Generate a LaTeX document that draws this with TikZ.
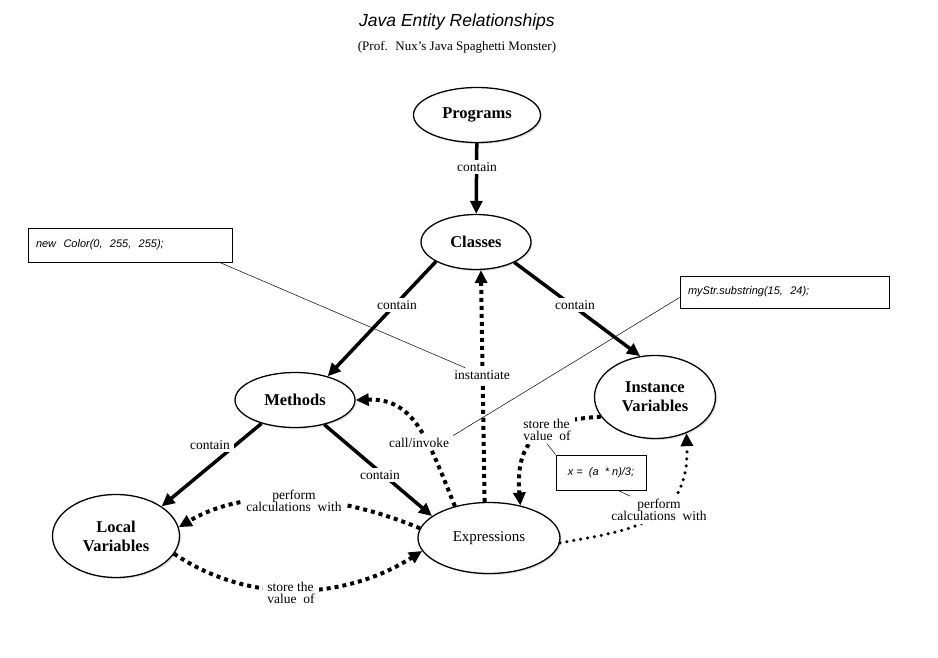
\documentclass[tikz,border=0pt]{standalone}
\usepackage{fontspec}
\setmainfont{Liberation Serif}
\setsansfont{Liberation Sans}
\usetikzlibrary{ arrows.meta,      % For the triangle tips
                 shapes.geometric, % For ellipse
                 shadows,          % For the soft shadows
               }

\tikzset{
  entity/.style={ellipse, draw, line width=1.3pt, fill=white, inner sep=0pt,
                 align=center, font=\fontsize{16.5}{19}\selectfont\bfseries,
                 drop shadow={opacity=0.25, shadow xshift=1.5pt, shadow yshift=-1.5pt}},
  codebox/.style={draw, line width=0.9pt, fill=white, inner xsep=8pt,
                  font=\fontsize{11}{13}\selectfont\sffamily\itshape},
  contains/.style={line width=3.5pt, -{Triangle[length=13pt, width=12pt]}},
  uses/.style={line width=4pt, dash pattern=on 4pt off 4pt,
               -{Triangle[length=13pt, width=12pt]}},
  computes/.style={line width=3.5pt, dash pattern=on 0pt off 7pt, line cap=round,
                   -{Triangle[length=13pt, width=12pt]}},
  lbl/.style={fill=white, inner xsep=4pt, inner ysep=2.5pt, align=center,
              font=\fontsize{13.5}{12.5}\selectfont},
  callout/.style={line width=0.5pt},
}

\begin{document}
\begin{tikzpicture}[x=1pt, y=-1pt]
  \useasboundingbox (0,0) rectangle (938,657);

  \node (title) at (457,22) {\fontsize{17.5}{20}\selectfont\sffamily\itshape Java Entity Relationships};
  \node (subtitle) at (457,47) {\fontsize{13}{15}\selectfont (Prof.~ Nux’s Java Spaghetti Monster)};

  % the entities
  \node[entity, minimum width=127pt, minimum height=55pt] (programs) at (477,115) {Programs};
  \node[entity, minimum width=110pt, minimum height=55pt] (classes) at (476,242) {Classes};
  \node[entity, minimum width=120pt, minimum height=55pt] (methods) at (295,400) {Methods};
  \node[entity, minimum width=121pt, minimum height=83pt] (inst_vars) at (655,397) {Instance\\Variables};
  \node[entity, minimum width=127pt, minimum height=83pt] (local_vars) at (116,536) {Local\\Variables};
  \node[entity, minimum width=142pt, minimum height=71pt,
        font=\fontsize{15}{18}\selectfont] (expressions) at (489,538) {Expressions};

  % code samples
  \node[codebox, minimum height=34pt, text width=188pt, align=left] (color_box) at (130,245)
    {new~ Color(0,~ 255,~ 255);};
  \node[codebox, minimum height=32pt, text width=193pt, align=left] (substr_box) at (784.5,292)
    {myStr.substring(15,~ 24);};
  \node[codebox, minimum width=90pt, minimum height=35pt] (calc_box) at (601,472.5)
    {x =~ (a~ * n)/3;};

  % solid arrows
  \draw[contains] (programs) -- (classes);
  \draw[contains] (classes.206) -- (methods.36);
  \draw[contains] (classes.332) -- (inst_vars.110);
  \draw[contains] (methods.215) -- (local_vars.33);
  \draw[contains] (methods.320) -- (expressions.159);

  % dashed arrows
  \draw[uses] (expressions.97) -- (classes.280);
  \draw[uses] (expressions.137) .. controls (428,440) and (415,398) .. (methods.east);
  \draw[uses] (inst_vars.200) .. controls (540,420) and (515,440) .. (expressions.46);
  \draw[uses] (expressions.172) .. controls (340,495) and (250,485) .. (local_vars.8);
  \draw[uses] (local_vars.343) .. controls (250,605) and (345,600) .. (expressions.191);
  \draw[computes] (expressions.-4) .. controls (630,530) and (690,525) .. (inst_vars.311);

  % labels
  \node[lbl] (contain_pc) at (477,167) {contain};
  \node[lbl] (contain_cm) at (397,305) {contain};
  \node[lbl] (contain_ci) at (575,305) {contain};
  \node[lbl] (contain_ml) at (210,445) {contain};
  \node[lbl] (contain_me) at (380,475) {contain};
  \node[lbl] (instantiate) at (482,375) {instantiate};
  \node[lbl] (call_label) at (419,443) {call/invoke};
  \node[lbl, align=left] (store_up) at (547,430) {store the\\value~ of};
  \node[lbl] (perform_right) at (659,510) {perform\\calculations~ with};
  \node[lbl] (perform_left) at (294,501) {perform\\calculations~ with};
  \node[lbl, align=left] (store_low) at (291,593) {store the\\value~ of};

  % callouts
  \draw[callout] (color_box.-11.6) -- (instantiate);
  \draw[callout] (substr_box.183) -- (call_label.north east);
  \draw[callout] (calc_box.north west) -- (store_up.south);
  \draw[callout] (calc_box.-46) -- (perform_right);
\end{tikzpicture}
\end{document}
